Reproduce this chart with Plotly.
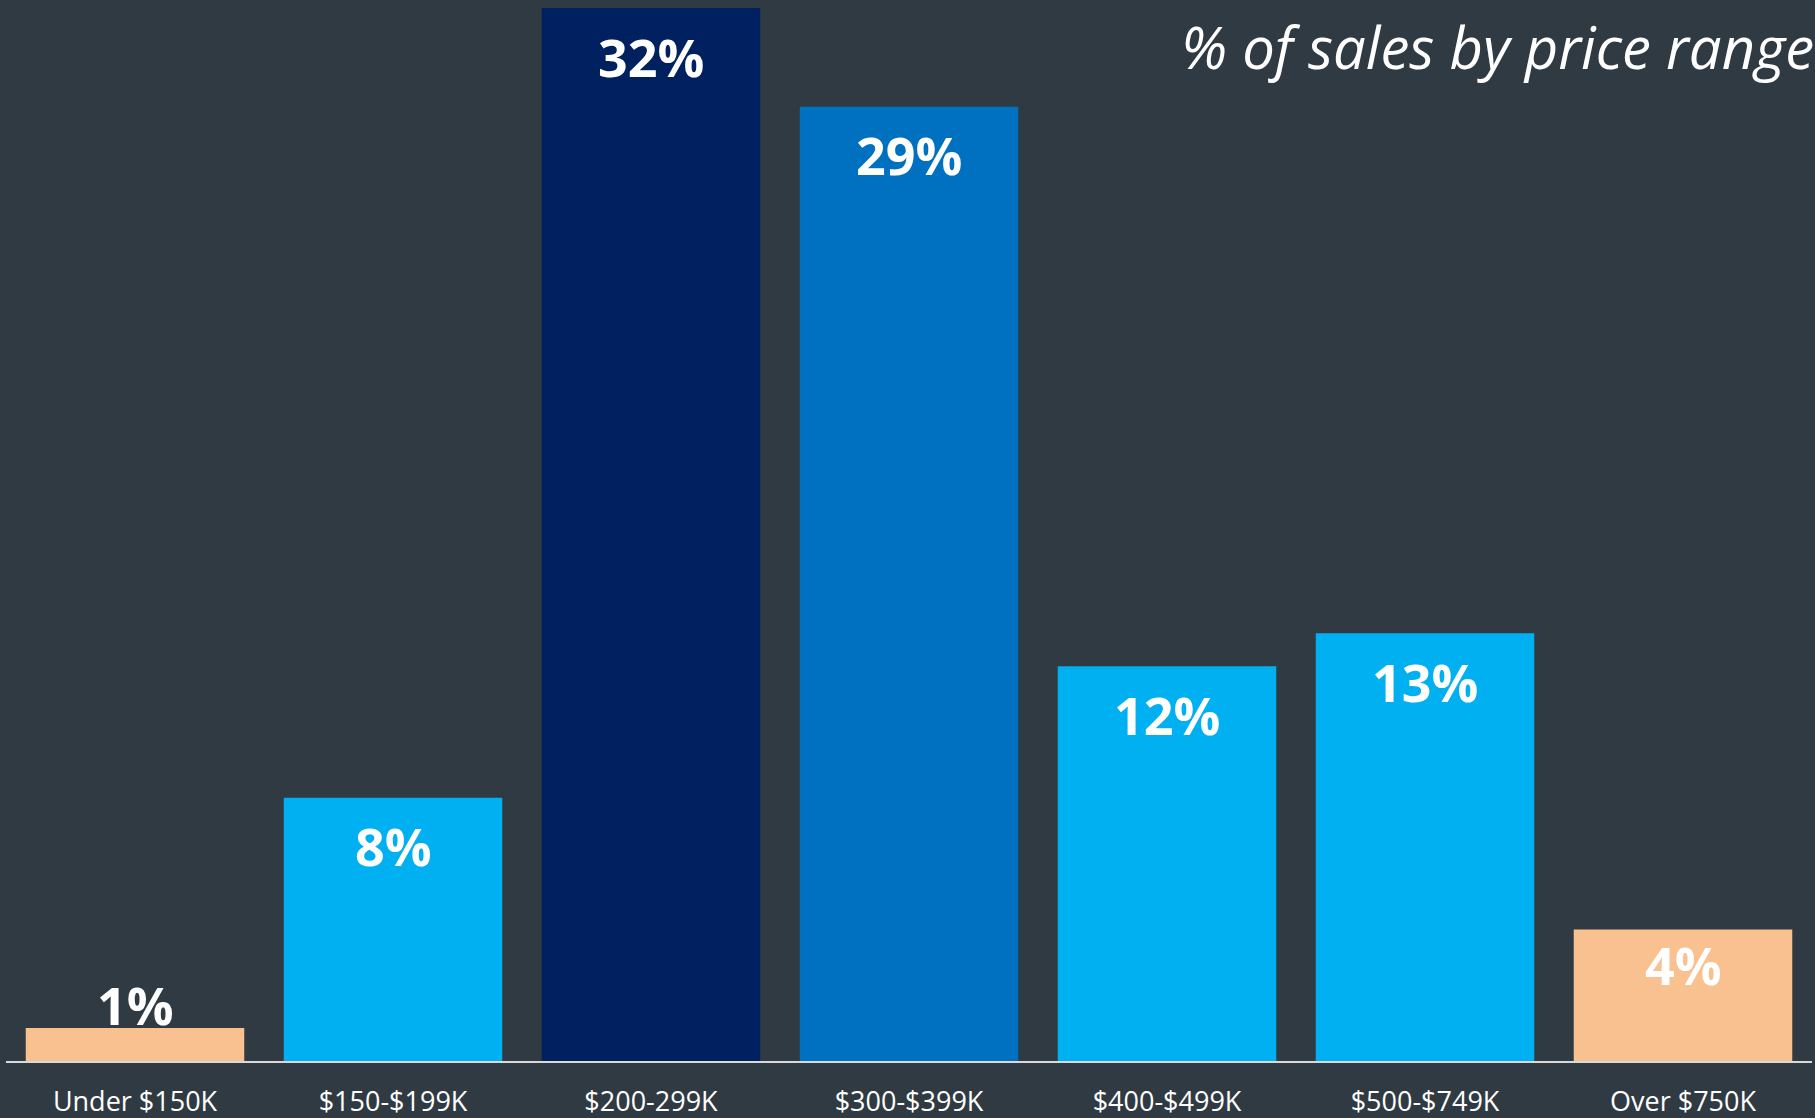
import plotly.graph_objects as go

# Share of home sales in each price bracket (percent)
price_ranges = ["Under $150K", "$150-$199K", "$200-299K", "$300-$399K",
                "$400-$499K", "$500-$749K", "Over $750K"]
share_pct = [1, 8, 32, 29, 12, 13, 4]
bar_colors = ["#F9C090", "#00B0F0", "#002060", "#0070C0",
              "#00B0F0", "#00B0F0", "#F9C090"]

BG = "#303A42"
FONT = "Open Sans"

fig = go.Figure(
    go.Bar(
        x=price_ranges,
        y=share_pct,
        marker=dict(color=bar_colors, line=dict(width=0)),
        hoverinfo="skip",
    )
)

# Value labels: inside near the top of each bar, above the bar when it is too short
annotations = []
for cat, val in zip(price_ranges, share_pct):
    if val < 2:
        shift = 24
    elif val < 5:
        shift = -35
    else:
        shift = -48
    annotations.append(dict(
        x=cat, y=val, xref="x", yref="y",
        text=f"<b>{val}%</b>", showarrow=False,
        yanchor="middle", yshift=shift,
        font=dict(family=FONT, size=52, color="white"),
    ))

annotations.append(dict(
    x=1.0, y=1.0, xref="paper", yref="paper",
    xanchor="right", yanchor="middle", xshift=4, yshift=-38,
    text="<i>% of sales by price range</i>", showarrow=False,
    font=dict(family=FONT, size=58, color="white"),
))

fig.update_layout(
    width=1815, height=1118,
    margin=dict(l=6, r=3, t=8, b=57, autoexpand=False),
    paper_bgcolor=BG, plot_bgcolor=BG,
    bargap=0.153,
    showlegend=False,
    annotations=annotations,
    xaxis=dict(
        showline=True, linecolor="#D9D9D9", linewidth=2,
        showgrid=False, zeroline=False, ticks="",
        tickfont=dict(family=FONT, size=27, color="white"),
        ticklabelstandoff=16, automargin=False,
    ),
    yaxis=dict(range=[0, 32], visible=False, showgrid=False,
               zeroline=False, automargin=False),
)

fig.write_html("out.html")
